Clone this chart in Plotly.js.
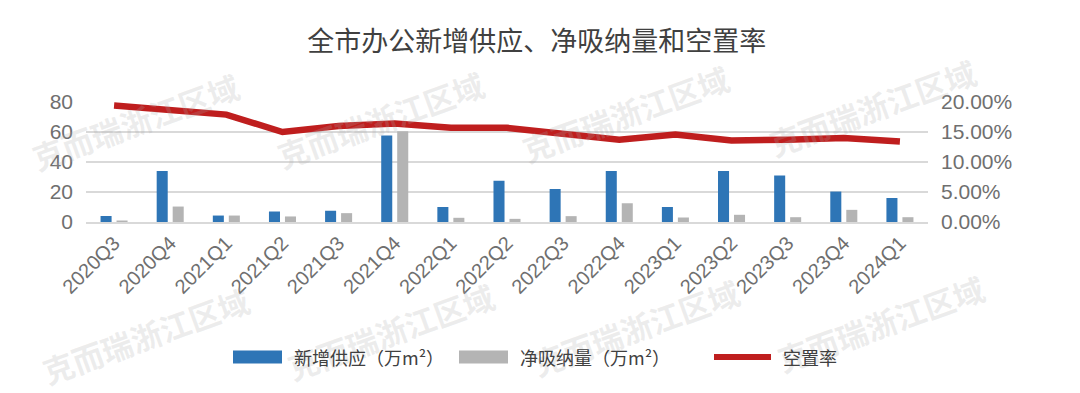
<!DOCTYPE html>
<html>
<head>
<meta charset="utf-8">
<script src="https://cdn.plot.ly/plotly-3.0.1.min.js"></script>
<style>html,body{margin:0;padding:0;background:#fff;}#chart{width:1080px;height:393px;}</style>
</head>
<body>
<div id="chart"></div>
<script>
// ---- data ----
var categories = ['2020Q3','2020Q4','2021Q1','2021Q2','2021Q3','2021Q4','2022Q1','2022Q2','2022Q3','2022Q4','2023Q1','2023Q2','2023Q3','2023Q4','2024Q1'];
var newSupply = [4, 34, 4.3, 7, 7.5, 57.7, 10, 27.5, 22, 34, 10, 34, 31, 20.3, 16];
var netAbsorption = [1, 10.3, 4.3, 3.7, 5.9, 60.5, 2.8, 2.1, 3.9, 12.5, 3, 4.8, 3.2, 8.1, 3.2];
var vacancyRate = [0.194, 0.186, 0.179, 0.150, 0.160, 0.164, 0.157, 0.157, 0.147, 0.137, 0.146, 0.136, 0.137, 0.140, 0.134];
var seriesNames = ['新增供应（万m²）', '净吸纳量（万m²）', '空置率'];
var chartTitle = '全市办公新增供应、净吸纳量和空置率';
var watermarkText = '克而瑞浙江区域';

// ---- geometry helpers (pixel -> paper) ----
var W = 1080, H = 393;
var mL = 86, mR = 152, mT = 102, mB = 170.5;
var pw = W - mL - mR, ph = H - mT - mB;
function px(x){ return (x - mL) / pw; }
function py(y){ return (H - mB - y) / ph; }

var cjk = '"Noto Sans CJK SC", "Noto Sans", sans-serif';
var latin = '"Liberation Sans", Arial, sans-serif';
var blue = '#2E75B6', gray = '#B4B4B4', red = '#BF1E1E';

var traces = [
  {type:'bar', name:seriesNames[0], x:categories, y:newSupply, marker:{color:blue}, showlegend:false, hoverinfo:'x+y'},
  {type:'bar', name:seriesNames[1], x:categories, y:netAbsorption, marker:{color:gray}, showlegend:false, hoverinfo:'x+y'},
  {type:'scatter', mode:'lines', name:seriesNames[2], x:categories, y:vacancyRate, yaxis:'y2',
   line:{color:red, width:6.5}, showlegend:false}
];

var shapes = [], annotations = [];
// watermarks (drawn first so they sit under the legend text)
var wm = [[135,122],[380,120],[625,114],[872,108],[145,336],[390,332],[635,328],[880,324]];
wm.forEach(function(p){
  annotations.push({xref:'paper', yref:'paper', x:px(p[0]), y:py(p[1]), xanchor:'center', yanchor:'middle',
    text:watermarkText, showarrow:false, textangle:-20,
    font:{family:cjk, size:31, color:'rgba(170,170,170,0.22)', weight:700}});
});
// manual legend
var legendY = 358;
var leg = [
  {x0:233, x1:282, color:blue, kind:'rect', tx:292, text:seriesNames[0]},
  {x0:459, x1:508, color:gray, kind:'rect', tx:518, text:seriesNames[1]},
  {x0:714, x1:771, color:red, kind:'line', tx:781, text:seriesNames[2]}
];
leg.forEach(function(l){
  if(l.kind === 'rect'){
    shapes.push({type:'rect', xref:'paper', yref:'paper', x0:px(l.x0), x1:px(l.x1), y0:py(legendY+6.5), y1:py(legendY-6.5),
      fillcolor:l.color, line:{width:0}});
  } else {
    shapes.push({type:'line', xref:'paper', yref:'paper', x0:px(l.x0), x1:px(l.x1), y0:py(legendY), y1:py(legendY),
      line:{color:l.color, width:6}});
  }
  annotations.push({xref:'paper', yref:'paper', x:px(l.tx), y:py(legendY), xanchor:'left', yanchor:'middle',
    text:l.text, showarrow:false, font:{family:cjk, size:18, color:'#404040'}});
});

var layout = {
  width:W, height:H,
  margin:{l:mL, r:mR, t:mT, b:mB, pad:0},
  paper_bgcolor:'#ffffff', plot_bgcolor:'#ffffff',
  title:{text:chartTitle, x:0.497, xanchor:'center', y:1-42/H, yanchor:'middle', yref:'container',
    font:{family:cjk, size:27, color:'#404040'}},
  barmode:'group', bargap:0.43, bargroupgap:0.31,
  xaxis:{type:'category', tickangle:-45, tickfont:{family:latin, size:20, color:'#6f6f6f'},
    showgrid:false, showline:true, linecolor:'#d9d9d9', linewidth:1.5, ticks:'', zeroline:false, fixedrange:true},
  yaxis:{range:[0,80], dtick:20, tickfont:{family:latin, size:21, color:'#6f6f6f'},
    showgrid:true, gridcolor:'#d9d9d9', gridwidth:1.5, zeroline:false, showline:false, ticks:'', ticklen:0, ticklabelstandoff:12, fixedrange:true},
  yaxis2:{range:[0,0.2], dtick:0.05, tickformat:'.2%', overlaying:'y', side:'right',
    tickfont:{family:latin, size:21, color:'#6f6f6f'}, showgrid:false, zeroline:false, showline:false, ticks:'', ticklabelstandoff:12, fixedrange:true},
  shapes:shapes, annotations:annotations, showlegend:false
};

Plotly.newPlot('chart', traces, layout, {displayModeBar:false, staticPlot:true});
</script>
</body>
</html>
